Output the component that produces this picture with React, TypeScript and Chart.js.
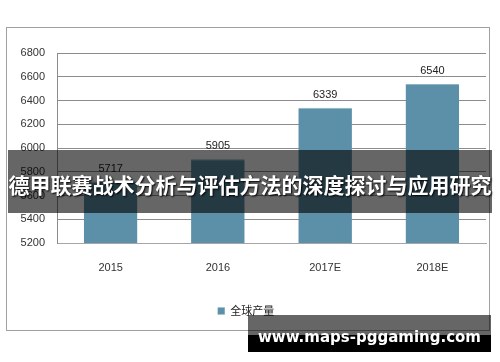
import React, { useEffect, useRef } from "react";
import { Chart, registerables } from "chart.js";

Chart.register(...registerables);

const categories: string[] = ["2015", "2016", "2017E", "2018E"];
const seriesValues: number[] = [5717, 5905, 6339, 6540];
const seriesLabel = "全球产量";
const yMin = 5200;
const yMax = 6800;
const yStep = 200;
const bannerText = "德甲联赛战术分析与评估方法的深度探讨与应用研究";
const watermarkText = "www.maps-pggaming.com";

const labelPlugin = {
  id: "valueLabels",
  afterDatasetsDraw(chart: any) {
    const ctx = chart.ctx;
    const meta = chart.getDatasetMeta(0);
    ctx.save();
    ctx.font = "11px 'Liberation Sans', sans-serif";
    ctx.fillStyle = "#222222";
    ctx.textAlign = "center";
    ctx.textBaseline = "middle";
    meta.data.forEach((bar: any, i: number) => {
      ctx.fillText(String(chart.data.datasets[0].data[i]), bar.x, bar.y - 13);
    });
    ctx.restore();
  },
};

export default function App() {
  const ref = useRef<HTMLCanvasElement | null>(null);

  useEffect(() => {
    if (!ref.current) return;
    const chart = new Chart(ref.current, {
      type: "bar",
      data: {
        labels: categories,
        datasets: [
          {
            label: seriesLabel,
            data: seriesValues,
            backgroundColor: "#5C90A8",
            borderColor: "#8FB6C8",
            borderWidth: { top: 1, left: 0, right: 0, bottom: 0 },
            barPercentage: 0.5,
            categoryPercentage: 1,
          },
        ],
      },
      options: {
        responsive: false,
        animation: false,
        layout: { padding: { left: 6, right: 14, top: 53, bottom: 35.5 } },
        plugins: {
          legend: {
            position: "bottom",
            labels: {
              boxWidth: 7,
              boxHeight: 7,
              padding: 10,
              color: "#222222",
              font: { size: 11, family: "'Noto Sans CJK SC', sans-serif" },
            },
          },
          tooltip: { enabled: false },
        },
        scales: {
          x: {
            grid: { display: false },
            border: { display: true, color: "#a6a6a6" },
            ticks: {
              color: "#333333",
              padding: 10,
              font: { size: 11, family: "'Liberation Sans', sans-serif" },
            },
            afterFit: (s: any) => {
              s.height = 52.5;
            },
          },
          y: {
            min: yMin,
            max: yMax,
            ticks: {
              stepSize: yStep,
              color: "#333333",
              padding: 12,
              font: { size: 11, family: "'Liberation Sans', sans-serif" },
              callback: (v: any) => String(v),
            },
            grid: { color: "#8c8c8c", drawTicks: false },
            border: { display: true, color: "#8c8c8c" },
            afterFit: (s: any) => {
              s.width = 51;
            },
          },
        },
      },
      plugins: [labelPlugin],
    } as any);
    return () => chart.destroy();
  }, []);

  return (
    <div
      style={{
        position: "fixed",
        left: 0,
        top: 0,
        width: 500,
        height: 362,
        background: "#ffffff",
        overflow: "hidden",
      }}
    >
      <div
        style={{
          position: "absolute",
          left: 6,
          top: 27,
          width: 484,
          height: 304,
          boxSizing: "border-box",
          border: "1px solid #a0a0a0",
        }}
      />
      <canvas
        ref={ref}
        width={500}
        height={362}
        style={{ position: "absolute", left: 0, top: 0, width: 500, height: 362 }}
      />
      <div
        style={{
          position: "absolute",
          left: 8,
          top: 150,
          width: 484,
          height: 63,
          background: "rgba(0,0,0,0.6)",
          color: "#ffffff",
          fontFamily: "'Noto Sans CJK SC', sans-serif",
          fontWeight: 700,
          fontSize: 21,
          lineHeight: "63px",
          textAlign: "center",
          whiteSpace: "nowrap",
          textShadow: "1px 1px 2px #000000",
          paddingTop: 3,
          boxSizing: "border-box",
        }}
      >
        {bannerText}
      </div>
      <div
        style={{
          position: "absolute",
          left: 248,
          top: 315,
          width: 243,
          height: 37,
          background:
            "linear-gradient(to bottom, rgba(0,0,0,0.6) 0px, rgba(0,0,0,0.6) 20px, #000000 20px, #000000 37px)",
          color: "#ffffff",
          fontFamily: "'DejaVu Sans', sans-serif",
          fontWeight: 700,
          fontSize: 15,
          lineHeight: "37px",
          textAlign: "center",
          whiteSpace: "nowrap",
          paddingTop: 4,
          boxSizing: "border-box",
        }}
      >
        {watermarkText}
      </div>
    </div>
  );
}
